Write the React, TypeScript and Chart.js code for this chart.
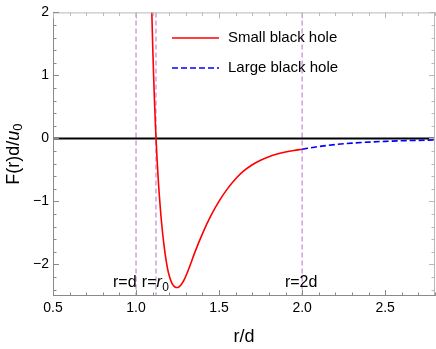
import React, { useEffect, useRef } from "react";
import { Chart, registerables } from "chart.js";

Chart.register(...registerables);

// ---- data ----
const smallX = [1.09, 1.095, 1.1, 1.105, 1.11, 1.115, 1.12, 1.125, 1.13, 1.135, 1.14, 1.15, 1.16, 1.17, 1.18, 1.19, 1.2, 1.21, 1.22, 1.23, 1.24, 1.25, 1.26, 1.27, 1.28, 1.29, 1.3, 1.31, 1.32, 1.33, 1.35, 1.4, 1.45, 1.5, 1.55, 1.6, 1.65, 1.7, 1.75, 1.8, 1.85, 1.9, 1.95, 2.0];
const smallY = [2.55, 2.0, 1.5, 1.06, 0.67, 0.32, 0.02, -0.25, -0.49, -0.705, -0.9, -1.23, -1.5, -1.73, -1.92, -2.07, -2.18, -2.26, -2.315, -2.348, -2.365, -2.366, -2.352, -2.326, -2.288, -2.24, -2.183, -2.12, -2.052, -1.98, -1.835, -1.51, -1.23, -0.995, -0.8, -0.64, -0.512, -0.417, -0.345, -0.29, -0.248, -0.216, -0.191, -0.171];
const largeX = [2.0, 2.1, 2.2, 2.3, 2.4, 2.5, 2.6, 2.7, 2.8];
const largeY = [-0.171, -0.128, -0.097, -0.075, -0.058, -0.046, -0.037, -0.03, -0.024];
const zeroX = [0.5, 2.8];
const zeroY = [0, 0];
const markerX = [1.0, 1.12, 2.0];
const seriesNames = ["Small black hole", "Large black hole"];
const xTicks = [0.5, 1.0, 1.5, 2.0, 2.5];
const yTicks = [-2, -1, 0, 1, 2];
const xMinor = [0.6, 0.7, 0.8, 0.9, 1.1, 1.2, 1.3, 1.4, 1.6, 1.7, 1.8, 1.9, 2.1, 2.2, 2.3, 2.4, 2.6, 2.7, 2.8];
const yMinor = [-2.4, -2.2, -1.8, -1.6, -1.4, -1.2, -0.8, -0.6, -0.4, -0.2, 0.2, 0.4, 0.6, 0.8, 1.2, 1.4, 1.6, 1.8];
const xTitle = "r/d";

const FONT = '"Liberation Sans", Arial, sans-serif';
const RED = "#ff0000";
const BLUE = "#0000ff";
const PURPLE = "#c98fd6";

const zip = (xs: number[], ys: number[]) => xs.map((x, i) => ({ x, y: ys[i] }));

const overlay = {
  id: "overlay",
  beforeDatasetsDraw(chart: any) {
    const { ctx, chartArea: a } = chart;
    const x = chart.scales.x;
    ctx.save();
    ctx.beginPath();
    ctx.rect(a.left, a.top, a.right - a.left, a.bottom - a.top);
    ctx.clip();
    ctx.strokeStyle = PURPLE;
    ctx.lineWidth = 1.3;
    ctx.setLineDash([5, 3]);
    for (const v of markerX) {
      const px = x.getPixelForValue(v);
      ctx.beginPath();
      ctx.moveTo(px, a.top);
      ctx.lineTo(px, a.bottom);
      ctx.stroke();
    }
    ctx.restore();
  },
  afterDatasetsDraw(chart: any) {
    const { ctx, chartArea: a } = chart;
    const x = chart.scales.x;
    const y = chart.scales.y;
    ctx.save();
    ctx.setLineDash([]);
    // frame
    ctx.lineWidth = 1;
    ctx.strokeStyle = "#b8b8b8";
    ctx.beginPath();
    ctx.moveTo(a.left, a.top + 0.5);
    ctx.lineTo(a.right - 0.5, a.top + 0.5);
    ctx.lineTo(a.right - 0.5, a.bottom);
    ctx.stroke();
    ctx.strokeStyle = "#8a8a8a";
    ctx.beginPath();
    ctx.moveTo(a.left + 0.5, a.top);
    ctx.lineTo(a.left + 0.5, a.bottom - 0.5);
    ctx.lineTo(a.right, a.bottom - 0.5);
    ctx.stroke();
    // ticks
    const tickX = (vals: number[], len: number, col: string, colTop: string) => {
      for (const v of vals) {
        const px = Math.round(x.getPixelForValue(v)) + 0.5;
        ctx.strokeStyle = col;
        ctx.beginPath();
        ctx.moveTo(px, a.bottom);
        ctx.lineTo(px, a.bottom - len);
        ctx.stroke();
        ctx.strokeStyle = colTop;
        ctx.beginPath();
        ctx.moveTo(px, a.top);
        ctx.lineTo(px, a.top + len);
        ctx.stroke();
      }
    };
    const tickY = (vals: number[], len: number, col: string, colRight: string) => {
      for (const v of vals) {
        const py = Math.round(y.getPixelForValue(v)) + 0.5;
        ctx.strokeStyle = col;
        ctx.beginPath();
        ctx.moveTo(a.left, py);
        ctx.lineTo(a.left + len, py);
        ctx.stroke();
        ctx.strokeStyle = colRight;
        ctx.beginPath();
        ctx.moveTo(a.right, py);
        ctx.lineTo(a.right - len, py);
        ctx.stroke();
      }
    };
    tickX(xTicks, 6, "#8a8a8a", "#b8b8b8");
    tickX(xMinor, 3.5, "#8a8a8a", "#b8b8b8");
    tickY(yTicks, 6, "#8a8a8a", "#b8b8b8");
    tickY(yMinor, 3.5, "#8a8a8a", "#b8b8b8");

    // marker labels
    ctx.fillStyle = "#000";
    ctx.textBaseline = "alphabetic";
    const base = 287;
    ctx.font = `16px ${FONT}`;
    ctx.textAlign = "right";
    ctx.fillText("r=d", x.getPixelForValue(markerX[0]) + 0.5, base);
    ctx.textAlign = "left";
    const p0 = x.getPixelForValue(markerX[1]);
    const wEq = ctx.measureText("r=").width;
    let cx = p0 - wEq + 0.5;
    ctx.fillText("r=", cx, base);
    cx += wEq;
    ctx.font = `italic 16px ${FONT}`;
    ctx.fillText("r", cx, base);
    cx += ctx.measureText("r").width + 0.5;
    ctx.font = `12px ${FONT}`;
    ctx.fillText("0", cx, base + 4);
    ctx.font = `16px ${FONT}`;
    ctx.textAlign = "center";
    ctx.fillText("r=2d", x.getPixelForValue(markerX[2]) - 1, base);

    // legend
    const legendItems = [
      { name: seriesNames[0], color: RED, dash: [] as number[], yy: 38 },
      { name: seriesNames[1], color: BLUE, dash: [6, 3], yy: 68 },
    ];
    for (const it of legendItems) {
      ctx.strokeStyle = it.color;
      ctx.lineWidth = 1.6;
      ctx.setLineDash(it.dash);
      ctx.beginPath();
      ctx.moveTo(172, it.yy);
      ctx.lineTo(219, it.yy);
      ctx.stroke();
      ctx.setLineDash([]);
      ctx.fillStyle = "#000";
      ctx.font = `15px ${FONT}`;
      ctx.textAlign = "left";
      ctx.textBaseline = "middle";
      ctx.fillText(it.name, 228, it.yy);
    }

    // x title
    ctx.font = `18px ${FONT}`;
    ctx.textAlign = "center";
    ctx.textBaseline = "middle";
    ctx.fillText(xTitle, (a.left + a.right) / 2, 337);

    // y title: F(r)d/u_0
    ctx.save();
    ctx.translate(14, (a.top + a.bottom) / 2);
    ctx.rotate(-Math.PI / 2);
    ctx.textBaseline = "middle";
    ctx.textAlign = "left";
    const parts = [
      { t: "F(r)d/", f: `18px ${FONT}`, dy: 0 },
      { t: "u", f: `italic 18px ${FONT}`, dy: 0 },
      { t: "0", f: `13px ${FONT}`, dy: 4 },
    ];
    let total = 0;
    for (const p of parts) {
      ctx.font = p.f;
      total += ctx.measureText(p.t).width;
    }
    let tx = -total / 2;
    for (const p of parts) {
      ctx.font = p.f;
      ctx.fillText(p.t, tx, p.dy);
      tx += ctx.measureText(p.t).width;
    }
    ctx.restore();
    ctx.restore();
  },
};

export default function App() {
  const ref = useRef<HTMLCanvasElement | null>(null);
  useEffect(() => {
    if (!ref.current) return;
    const chart = new Chart(ref.current, {
      type: "line",
      data: {
        datasets: [
          {
            label: seriesNames[0],
            data: zip(smallX, smallY),
            borderColor: RED,
            borderWidth: 1.6,
            pointRadius: 0,
            cubicInterpolationMode: "monotone",
            fill: false,
          },
          {
            label: seriesNames[1],
            data: zip(largeX, largeY),
            borderColor: BLUE,
            borderWidth: 1.6,
            borderDash: [6, 3],
            pointRadius: 0,
            cubicInterpolationMode: "monotone",
            fill: false,
          },
          {
            label: "zero",
            data: zip(zeroX, zeroY),
            borderColor: "#000",
            borderWidth: 2,
            pointRadius: 0,
            fill: false,
          },
        ],
      },
      options: {
        animation: false,
        responsive: false,
        devicePixelRatio: 1,
        parsing: false as any,
        layout: { padding: { left: 0, right: 1, top: 9, bottom: 0 } },
        plugins: { legend: { display: false }, tooltip: { enabled: false } },
        scales: {
          x: {
            type: "linear",
            min: 0.5,
            max: 2.8,
            grid: { display: false, drawTicks: false },
            border: { display: false },
            afterBuildTicks: (s: any) => {
              s.ticks = xTicks.map((v) => ({ value: v }));
            },
            afterFit: (s: any) => {
              s.height = 53;
            },
            ticks: {
              color: "#000",
              padding: 4,
              maxRotation: 0,
              font: { family: FONT, size: 14 },
              callback: (v: any) => Number(v).toFixed(1),
            },
          },
          y: {
            type: "linear",
            min: -2.5,
            max: 2,
            grid: { display: false, drawTicks: false },
            border: { display: false },
            afterBuildTicks: (s: any) => {
              s.ticks = yTicks.map((v) => ({ value: v }));
            },
            afterFit: (s: any) => {
              s.width = 53;
            },
            ticks: {
              color: "#000",
              padding: 4,
              font: { family: FONT, size: 14 },
              callback: (v: any) => (Number(v) < 0 ? "\u2212" + Math.abs(Number(v)) : String(v)),
            },
          },
        },
      },
      plugins: [overlay],
    });
    return () => chart.destroy();
  }, []);
  return (
    <div style={{ position: "fixed", left: 0, top: 0, width: 436, height: 349, background: "#fff" }}>
      <canvas ref={ref} width={436} height={349} style={{ display: "block" }} />
    </div>
  );
}
